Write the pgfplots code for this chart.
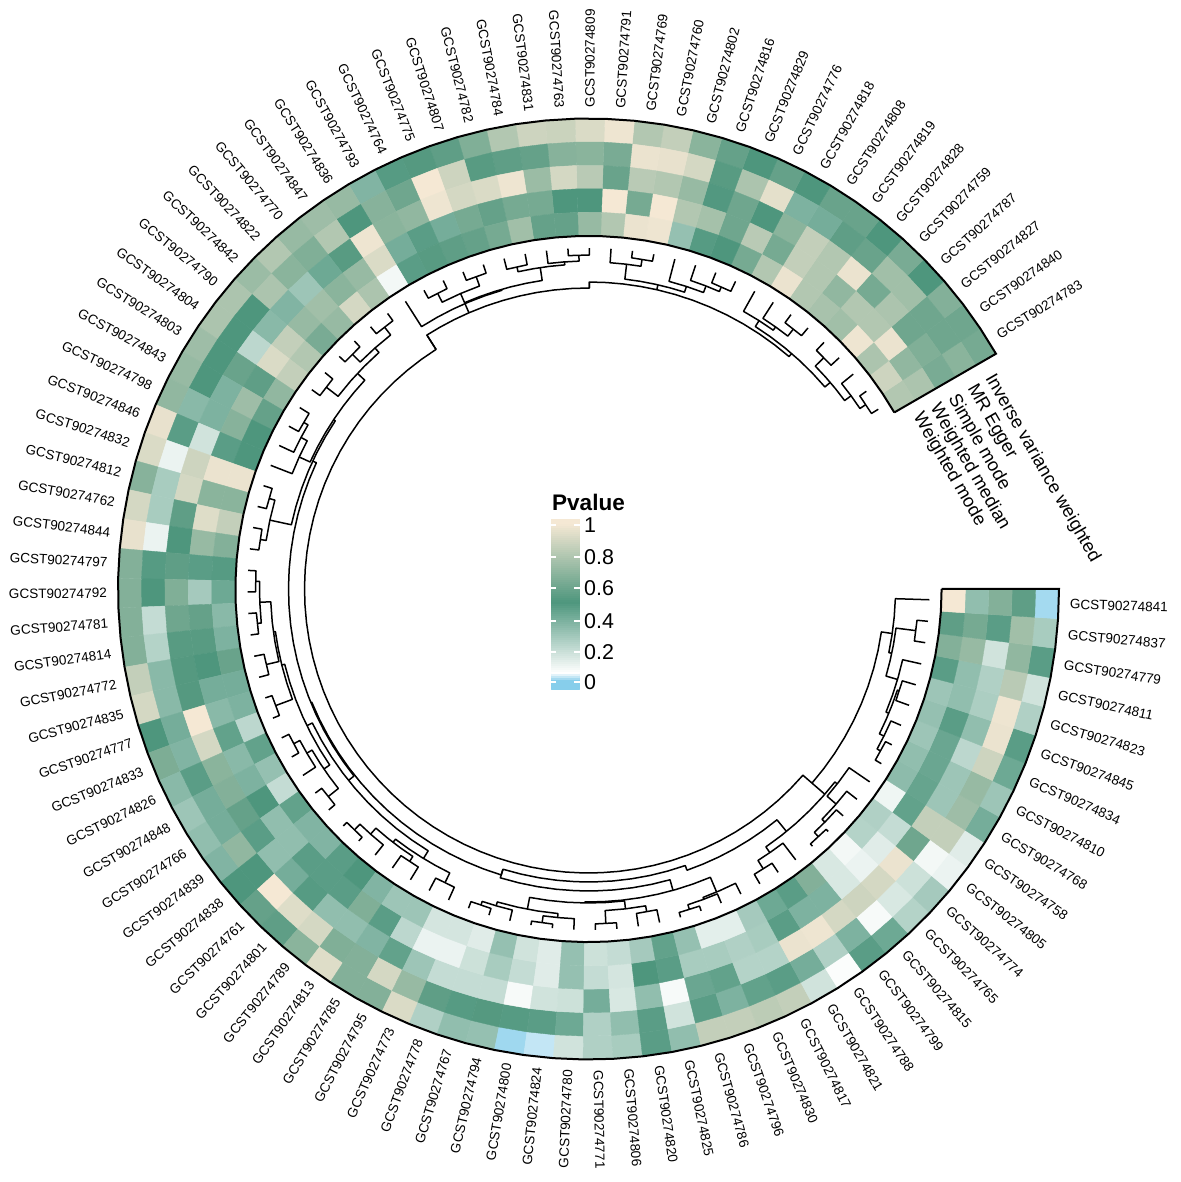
\documentclass[border=0pt]{standalone}
\usepackage{pgfplots}
\pgfplotsset{compat=1.18}
\usepackage{pgfplotstable}
\usepgfplotslibrary{patchplots}
\usepackage{etoolbox}
\usepackage{fontspec}
\setmainfont{Liberation Sans}

% one row per column of the ring, outer ring first
\pgfplotstableread{
name iv egger simple wmedian wmode
GCST90274783 .62 .68 .63 .78 .80
GCST90274840 .60 .60 .65 .70 .88
GCST90274827 .66 .60 .60 .97 .78
GCST90274787 .50 .75 .78 .80 .98
GCST90274759 .63 .75 .62 .80 .75
GCST90274828 .50 .58 .97 .70 .77
GCST90274819 .58 .55 .80 .80 .80
GCST90274808 .58 .40 .85 .85 .97
GCST90274818 .50 .38 .68 .62 .80
GCST90274776 .57 .95 .50 .82 .62
GCST90274829 .50 .78 .60 .60 .50
GCST90274816 .57 .53 .49 .76 .48
GCST90274802 .68 .90 .72 .80 .32
GCST90274760 .85 .96 .80 1 .98
GCST90274769 .80 .97 .82 .62 .97
GCST90274791 .98 .63 .58 1 .80
GCST90274809 .92 .68 .82 .50 .72
GCST90274763 .87 .67 .90 .50 .57
GCST90274831 .88 .57 .73 .62 .57
GCST90274784 .80 .55 .98 .62 .75
GCST90274782 .65 .53 .92 .57 .62
GCST90274807 .55 .88 .90 .62 .57
GCST90274775 .52 1 .98 .40 .55
GCST90274764 .48 .60 .70 .47 .53
GCST90274793 .37 .67 .68 .40 .47
GCST90274836 .72 .50 .98 .92 .08
GCST90274847 .74 .80 .53 .72 .78
GCST90274770 .72 .65 .42 .68 .90
GCST90274822 .80 .68 .30 .75 .72
GCST90274842 .73 .78 .37 .72 .63
GCST90274790 .78 .50 .35 .85 .80
GCST90274804 .78 .50 .22 .92 .85
GCST90274803 .74 .50 .58 .55 .70
GCST90274843 .72 .50 .38 .74 .57
GCST90274798 .70 .35 .38 .67 .50
GCST90274846 .96 .47 .17 .47 .50
GCST90274832 .92 .10 .88 .97 .97
GCST90274812 .67 .27 .90 .68 .68
GCST90274762 .90 .27 .55 .93 .85
GCST90274844 .96 .10 .50 .72 .66
GCST90274797 .66 .48 .55 .47 .48
GCST90274792 .66 .50 .65 .28 .42
GCST90274781 .66 .20 .60 .57 .35
GCST90274814 .66 .24 .53 .53 .38
GCST90274772 .85 .35 .52 .50 .58
GCST90274835 .90 .35 .52 .40 .40
GCST90274777 .50 .40 1 .35 .38
GCST90274833 .64 .37 .90 .45 .22
GCST90274826 .35 .47 .68 .35 .45
GCST90274848 .30 .40 .66 .38 .32
GCST90274766 .33 .40 .57 .50 .20
GCST90274839 .37 .70 .47 .33 .45
GCST90274838 .50 .50 .33 .33 .37
GCST90274761 .57 1 .40 .47 .37
GCST90274801 .55 .93 .48 .47 .47
GCST90274789 .68 .90 .33 .47 .50
GCST90274813 .93 .65 .33 .65 .37
GCST90274785 .66 .66 .37 .47 .30
GCST90274795 .66 .90 .45 .22 .30
GCST90274773 .92 .72 .30 .10 .16
GCST90274778 .25 .55 .20 .10 .16
GCST90274767 .33 .48 .20 .18 .13
GCST90274794 .32 .52 .20 .27 .32
GCST90274800 .01 .48 .07 .20 .17
GCST90274824 .025 .47 .17 .13 .13
GCST90274780 .17 .42 .18 .32 .32
GCST90274771 .25 .25 .40 .20 .18
GCST90274806 .27 .33 .15 .16 .20
GCST90274820 .47 .47 .33 .50 .28
GCST90274825 .33 .17 .07 .47 .45
GCST90274786 .85 .47 .43 .27 .32
GCST90274796 .85 .38 .45 .27 .12
GCST90274830 .83 .45 .24 .25 .12
GCST90274817 .85 .47 .24 .27 .28
GCST90274821 .17 .40 .97 .47 .42
GCST90274788 .06 .25 .98 .38 .47
GCST90274799 .47 .38 .90 .38 .66
GCST90274815 .42 .07 .88 .15 .15
GCST90274765 .24 .15 .90 .10 .08
GCST90274774 .28 .18 .97 .13 .24
GCST90274805 .10 .08 .60 .20 .25
GCST90274758 .13 .85 .85 .45 .09
GCST90274768 .40 .74 .30 .44 .34
GCST90274810 .30 .72 .30 .43 .33
GCST90274834 .42 .88 .22 .43 .30
GCST90274845 .47 .97 .33 .47 .32
GCST90274823 .25 .98 .26 .33 .30
GCST90274811 .17 .82 .25 .33 .47
GCST90274779 .47 .70 .17 .72 .66
GCST90274837 .27 .75 .47 .62 .55
GCST90274841 .012 .55 .66 .33 1
}\heat

\def\cx{588.5}
\def\cy{593}
\def\colstep{3.6264}
\def\rout{470.5}
\def\rw{23.4}

\newcommand{\pol}[2]{%
  \pgfmathsetmacro\px{\cx+(#2)*cos(#1)}%
  \pgfmathsetmacro\py{\cy+(#2)*sin(#1)}}

% heat cells
\gdef\heatpts{}
\foreach \i in {0,...,90}{%
  \pgfmathsetmacro\ta{30+\colstep*\i}%
  \pgfmathsetmacro\tb{\ta+\colstep}%
  \foreach \k in {0,...,4}{%
    \pgfmathtruncatemacro\kk{\k+1}%
    \pgfplotstablegetelem{\i}{[index]\kk}\of\heat
    \edef\v{\pgfplotsretval}%
    \pgfmathsetmacro\ra{\rout-\rw*\k}%
    \pgfmathsetmacro\rb{\ra-\rw}%
    \pol{\ta}{\ra}\edef\xa{\px}\edef\ya{\py}%
    \pol{\tb}{\ra}\edef\xb{\px}\edef\yb{\py}%
    \pol{\tb}{\rb}\edef\xc{\px}\edef\yc{\py}%
    \pol{\ta}{\rb}\edef\xd{\px}\edef\yd{\py}%
    \xappto\heatpts{(\xa,\ya)[\v] (\xb,\yb)[\v] (\xc,\yc)[\v] (\xd,\yd)[\v] }%
  }%
}

% column labels
\gdef\labelcmds{}
\foreach \i in {0,...,90}{%
  \pgfplotstablegetelem{\i}{name}\of\heat
  \edef\nm{\pgfplotsretval}%
  \pgfmathsetmacro\th{30+\colstep*(\i+0.5)}%
  \pol{\th}{481.5}%
  \ifdim\th pt<90pt \def\anc{west}\pgfmathsetmacro\rot{\th}%
  \else\ifdim\th pt<270pt \def\anc{east}\pgfmathsetmacro\rot{\th-180}%
  \else \def\anc{west}\pgfmathsetmacro\rot{\th-360}\fi\fi
  \xappto\labelcmds{\noexpand\node[lab,anchor=\anc,rotate=\rot] at (axis cs:\px,\py) {\nm};}%
}

% dendrogram: child at p1 r1, child at p2 r2, merged at radius r
\gdef\treecmds{}
\newcommand{\U}[6][dend]{%
  \pgfmathsetmacro\ta{30+\colstep*(#2-0.5)}\pol{\ta}{#3}\xdef\pts{(\px,\py)}%
  \pgfmathtruncatemacro\nn{max(1,ceil(abs(#4-#2)))}%
  \foreach \s in {0,...,\nn}{%
    \pgfmathsetmacro\ta{30+\colstep*(#2-0.5+(#4-(#2))*\s/\nn)}\pol{\ta}{#6}\xappto\pts{ (\px,\py)}}%
  \pgfmathsetmacro\ta{30+\colstep*(#4-0.5)}\pol{\ta}{#5}\xappto\pts{ (\px,\py)}%
  \xappto\treecmds{\noexpand\addplot[#1] coordinates {\pts};}}

\def\T{341}
% top right
\U{1}{\T}{2}{\T}{333}\U{1.5}{333}{3}{\T}{326}\U{4}{\T}{5}{\T}{330}\U{2.25}{326}{4.5}{330}{318}
\U{6}{\T}{7}{\T}{331}\U{6.5}{331}{8}{\T}{322}\U{9}{\T}{7.25}{322}{318}\U{3.4}{318}{8.1}{318}{311}
\U{10}{\T}{11}{\T}{330}\U{12}{\T}{10.5}{330}{325}\U{13}{\T}{11.2}{325}{318}
\U{14}{\T}{15}{\T}{334}\U{16}{\T}{14.5}{334}{327}\U{15.2}{327}{12.1}{318}{312}
\U{5.8}{311}{13.5}{312}{307}\U{13.5}{307}{17}{301}{307}
\U{17}{\T}{18}{\T}{334}\U{19}{\T}{17.5}{334}{328}\U{20}{\T}{21}{\T}{330}\U{18.2}{328}{20.5}{330}{325}
\U{22}{\T}{23}{\T}{332}\U{24}{\T}{25}{\T}{332}\U{22.5}{332}{24.5}{332}{322}\U{19.4}{325}{23.5}{322}{312}
\U{21.5}{312}{26}{\T}{311}\U{17}{307}{23.5}{311}{301}\U{23.5}{301}{26}{284}{301}
% left
\U{27}{\T}{28}{\T}{332}\U{29}{\T}{30}{\T}{333}\U{27.5}{332}{29.5}{333}{322}\U{31}{\T}{32}{\T}{331}\U{28.5}{322}{31.5}{331}{316}
\U{33}{\T}{34}{\T}{330}\U{33.5}{330}{35}{\T}{325}\U{34.2}{325}{36}{\T}{318}\U{30}{316}{35.1}{318}{306}
\U{37}{\T}{38}{\T}{332}\U{39}{\T}{40}{\T}{332}\U{37.5}{332}{39.5}{332}{326}\U{38.5}{326}{32.6}{306}{304}
\U{41}{\T}{42}{\T}{333}\U{43}{\T}{44}{\T}{333}\U{41.5}{333}{43.5}{333}{329}\U{45}{\T}{46}{\T}{331}\U{42.5}{329}{45.5}{331}{318}
\U{47}{\T}{48}{\T}{334}\U{44}{318}{47.5}{334}{316}
\U{49}{\T}{50}{\T}{333}\U{51}{\T}{49.5}{333}{326}\U{52}{\T}{53}{\T}{333}\U{50.2}{326}{52.5}{333}{320}\U{45.7}{316}{51.3}{320}{313}
\U{54}{\T}{55}{\T}{336}\U{54.5}{336}{56}{\T}{328}\U{57}{\T}{58}{\T}{326}\U{55.2}{328}{57.5}{326}{320}\U{59}{\T}{60}{\T}{327}\U{56.3}{320}{59.5}{327}{316}
\U{49}{313}{58}{316}{307}\U{35}{304}{52.5}{307}{300}
% bottom
\U{61}{\T}{62}{\T}{334}\U{61.5}{334}{63}{\T}{330}\U{64}{\T}{65}{\T}{337}\U{64.5}{337}{66}{\T}{330}\U{62.2}{330}{65.2}{330}{326}
\U{67}{\T}{68}{\T}{335}\U{69}{\T}{70}{\T}{328}\U{67.5}{335}{69.5}{328}{322}\U{63.7}{326}{68.5}{322}{314}
\U{71}{\T}{72}{\T}{336}\U{71.5}{336}{73}{\T}{331}\U{72.3}{331}{74}{\T}{329}\U{66.5}{314}{73}{329}{313}
\U{48}{300}{62}{293}{299}\U{62}{299}{71}{313}{302}\U{62}{299}{72}{298}{293}\U{72}{298}{77.5}{313}{298}
% right bottom
\U{75}{\T}{76}{\T}{330}\U{75.5}{330}{77}{\T}{320}\U{78}{\T}{79}{\T}{338}\U{78.5}{338}{80}{\T}{332}\U{79.2}{332}{81}{\T}{328}\U{80.2}{328}{82}{\T}{316}
\U{76.2}{320}{81}{316}{313}
\U{90}{\T}{89}{\T}{330}\U{83}{\T}{84}{\T}{334}\U{83.5}{334}{85}{\T}{330}\U{86}{\T}{87}{\T}{327}\U{84.2}{330}{86.5}{327}{325}
\U{85.3}{325}{88}{\T}{322}\U{87}{322}{89.5}{330}{310}\U{91}{\T}{88.2}{310}{307}
\U{80.2}{313}{89.2}{307}{296}
% root
\U{26}{301}{80.2}{296}{284}
% band outline
\U[bord]{0.5}{353.1}{91.5}{353.1}{470.5}
\U[bord]{0.5}{353.1}{91.5}{353.1}{353.1}

% colour bar of the legend
\gdef\barpts{}
\foreach \s in {0,...,84}{%
  \pgfmathsetmacro\v{max(0,min(1,(2*\s-8)/157))}%
  \pgfmathsetmacro\ya{493+2*\s}%
  \pgfmathsetmacro\yb{495+2*\s}%
  \xappto\barpts{(551,\ya)[\v] (579.5,\ya)[\v] (579.5,\yb)[\v] (551,\yb)[\v] }%
}

\tikzset{
  lab/.style={font=\fontsize{13.6}{15}\selectfont,inner sep=0pt,text=black},
  ringlab/.style={font=\fontsize{18.4}{20}\selectfont,inner sep=0pt,anchor=west,rotate=-60},
  leglab/.style={font=\fontsize{21.5}{23}\selectfont,inner sep=0pt,anchor=west},
}
\pgfplotsset{
  dend/.style={black,line width=1.5bp,no markers,line join=round,forget plot},
  bord/.style={black,line width=2bp,no markers,line join=miter,forget plot},
  tickw/.style={white,line width=1.2bp,no markers,forget plot},
}

\begin{document}
\begin{tikzpicture}
\useasboundingbox (0,0) rectangle (1181bp,1182bp);
\begin{axis}[
  at={(0,0)},anchor=south west,
  axis lines=none,
  scale only axis,
  width=1181bp,height=1182bp,
  xmin=0,xmax=1181,ymin=0,ymax=1182,
  clip=false,
  colormap={pv}{rgb255(0cm)=(135,206,235) rgb255(0.5cm)=(255,255,255) rgb255(5cm)=(78,150,125) rgb255(10cm)=(245,232,212)},
  point meta min=0,point meta max=1,
]
\edef\cmd{\noexpand\addplot[patch,patch type=rectangle,shader=flat,point meta=explicit,forget plot] coordinates {\heatpts};}\cmd
\edef\cmd{\noexpand\addplot[patch,patch type=rectangle,shader=flat,point meta=explicit,forget plot] coordinates {\barpts};}\cmd
\treecmds
\labelcmds
\addplot[tickw] coordinates {(551,657)(556,657)};
\addplot[tickw] coordinates {(574,657)(579.5,657)};
\addplot[tickw] coordinates {(551,625)(556,625)};
\addplot[tickw] coordinates {(574,625)(579.5,625)};
\addplot[tickw] coordinates {(551,594)(556,594)};
\addplot[tickw] coordinates {(574,594)(579.5,594)};
\addplot[tickw] coordinates {(551,561)(556,561)};
\addplot[tickw] coordinates {(574,561)(579.5,561)};
\addplot[tickw] coordinates {(551,530)(556,530)};
\addplot[tickw] coordinates {(574,530)(579.5,530)};
\addplot[tickw] coordinates {(551,500)(556,500)};
\addplot[tickw] coordinates {(574,500)(579.5,500)};
\node[leglab] at (axis cs:584,657) {1};
\node[leglab] at (axis cs:584,625) {0.8};
\node[leglab] at (axis cs:584,594) {0.6};
\node[leglab] at (axis cs:584,561) {0.4};
\node[leglab] at (axis cs:584,530) {0.2};
\node[leglab] at (axis cs:584,500) {0};
\node[inner sep=0pt,anchor=west,font=\fontsize{22.6}{24}\selectfont\bfseries] at (axis cs:552,680) {Pvalue};
\node[ringlab] at (axis cs:989,806) {Inverse variance weighted};
\node[ringlab] at (axis cs:971,796) {MR Egger};
\node[ringlab] at (axis cs:952,786) {Simple mode};
\node[ringlab] at (axis cs:934,777) {Weighted median};
\node[ringlab] at (axis cs:917,768) {Weighted mode};
\end{axis}
\end{tikzpicture}
\end{document}
